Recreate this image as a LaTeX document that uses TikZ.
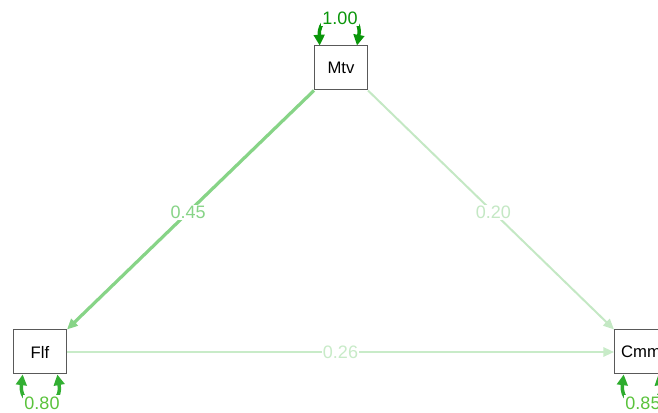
\documentclass[tikz,border=0pt]{standalone}
\usepackage{fontspec}
\setmainfont{Liberation Sans}
\usetikzlibrary{arrows.meta,positioning}
\definecolor{res100}{RGB}{10,150,10}
\definecolor{res085}{RGB}{45,172,45}
\definecolor{res080}{RGB}{50,175,50}
\definecolor{lab080}{RGB}{90,195,60}
\definecolor{edge045}{RGB}{135,212,135}
\definecolor{edge026}{RGB}{200,235,200}
\definecolor{edge020}{RGB}{196,232,196}
\tikzset{
  var/.style={draw=black!65, line width=0.75pt, fill=white, inner sep=0pt,
    minimum width=39.75pt, minimum height=33pt, font=\fontsize{12.5}{14}\selectfont},
  path/.style={-{Triangle[length=8pt,width=7pt]}, line width=1.5pt},
  resid/.style={{Triangle[length=8pt,width=8pt]}-{Triangle[length=8pt,width=8pt]}, line width=2.6pt},
  est/.style={fill=white, inner sep=1pt, font=\fontsize{13.5}{15}\selectfont}
}
\begin{document}
\begin{tikzpicture}[x=0.75pt,y=-0.75pt]
      \useasboundingbox (0,0) rectangle (658,413);
      % Variables
      \node[var] (mtv) at (341,68) {Mtv};
      \node[var] (flf) at (40,352) {Flf};
      \node[var] (cmm) at (641,352) {Cmm};
      % Paths between variables
      \draw[path, edge045, line width=2.4pt] (mtv.south west) -- (flf.north east)
        node[est, pos=0.51, text=edge045] (l045) {0.45};
      \draw[path, edge020] (mtv.south east) -- (cmm.north west)
        node[est, pos=0.51, text=edge020] (l020) {0.20};
      \draw[path, edge026] (flf.east) -- (cmm.west)
        node[est, midway, text=edge026] (l026) {0.26};
      % Residual variances
      \draw[resid, res100] ([xshift=-16pt]mtv.north) .. controls (318,8) and (364,8) .. ([xshift=12pt]mtv.north);
      \node[est, text=res100] (r100) at (340,18) {1.00};
      \draw[resid, res080] ([xshift=-13pt]flf.south) .. controls (18,412) and (64,412) .. ([xshift=13pt]flf.south);
      \node[est, text=lab080] (r080) at (42,403) {0.80};
      \draw[resid, res085] ([xshift=-13pt]cmm.south) .. controls (619,412) and (665,412) .. ([xshift=13pt]cmm.south);
      \node[est, text=lab080] (r085) at (643,403) {0.85};
      % redraw boxes on top
      \node[var] at (mtv) {Mtv};
      \node[var] at (flf) {Flf};
      \node[var] at (cmm) {Cmm};
\end{tikzpicture}
\end{document}
